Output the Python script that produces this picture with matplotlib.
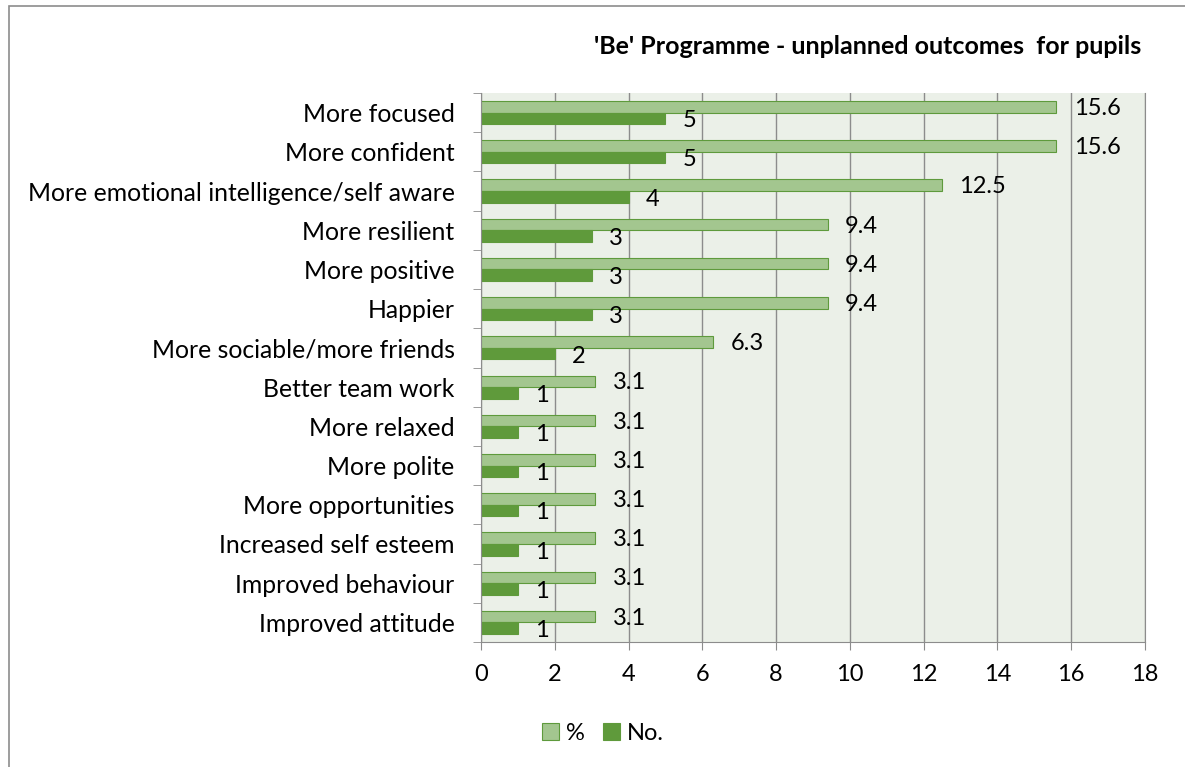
import numpy as np
import matplotlib.pyplot as plt
from matplotlib.patches import Rectangle

plt.rcParams['font.family'] = ['Lato', 'DejaVu Sans']

outcomes = ["More focused", "More confident", "More emotional intelligence/self aware",
            "More resilient", "More positive", "Happier", "More sociable/more friends",
            "Better team work", "More relaxed", "More polite", "More opportunities",
            "Increased self esteem", "Improved behaviour", "Improved attitude"]
pct = [15.6, 15.6, 12.5, 9.4, 9.4, 9.4, 6.3, 3.1, 3.1, 3.1, 3.1, 3.1, 3.1, 3.1]
num = [5, 5, 4, 3, 3, 3, 2, 1, 1, 1, 1, 1, 1, 1]

light = '#a3c68f'
light_edge = '#5e9a3c'
dark = '#5f9a3b'
fs = 17

fig = plt.figure(figsize=(11.85, 7.67), dpi=100)
# chart frame
fig.patches.append(Rectangle((9/1185, -0.01), 1.2, 1 - 6/767 + 0.01, transform=fig.transFigure,
                             fill=False, edgecolor='#8c8c8c', lw=1.2))

ax = fig.add_axes([481/1185, 1 - 642/767, (1145-481)/1185, (642-93)/767])
ax.set_facecolor('#ebf0e8')

y = np.arange(len(outcomes))
h = 0.295
ax.barh(y - h/2, pct, height=h, color=light, edgecolor=light_edge, lw=0.8, label='%')
ax.barh(y + h/2, num, height=h, color=dark, edgecolor=dark, lw=0.8, label='No.')

for i in range(len(outcomes)):
    ax.text(pct[i] + 0.47, y[i] - h/2 + 0.04, f"{pct[i]:.1f}", va='center', ha='left', fontsize=fs)
    ax.text(num[i] + 0.47, y[i] + h/2 + 0.06, f"{num[i]}", va='center', ha='left', fontsize=fs)

ax.set_xlim(0, 18)
ax.set_ylim(len(outcomes) - 0.5, -0.5)
ax.set_xticks(range(0, 19, 2))
ax.tick_params(axis='x', labelsize=fs, length=6, color='#8c8c8c', pad=10)
ax.set_yticks(y)
ax.set_yticklabels(outcomes, fontsize=17.8)
ax.tick_params(axis='y', length=0, pad=19)
ax.set_yticks(np.arange(-0.5, len(outcomes)), minor=True)
ax.tick_params(axis='y', which='minor', length=6, color='#8c8c8c')
ax.grid(axis='x', color='#8c8c8c', lw=1)
ax.set_axisbelow(True)
for side in ['left', 'bottom', 'right']:
    ax.spines[side].set_color('#8c8c8c')
ax.spines['top'].set_visible(False)

fig.text(1141/1185, 1 - 46/767, "'Be' Programme - unplanned outcomes  for pupils",
         ha='right', va='center', fontsize=18, fontweight='bold')

fig.legend(loc='center', bbox_to_anchor=(603/1185, 1 - 733/767), ncol=2, frameon=False,
           fontsize=fs, handlelength=0.7, handleheight=0.7, handletextpad=0.3, columnspacing=0.8)

fig.savefig('out.png', dpi=100)
